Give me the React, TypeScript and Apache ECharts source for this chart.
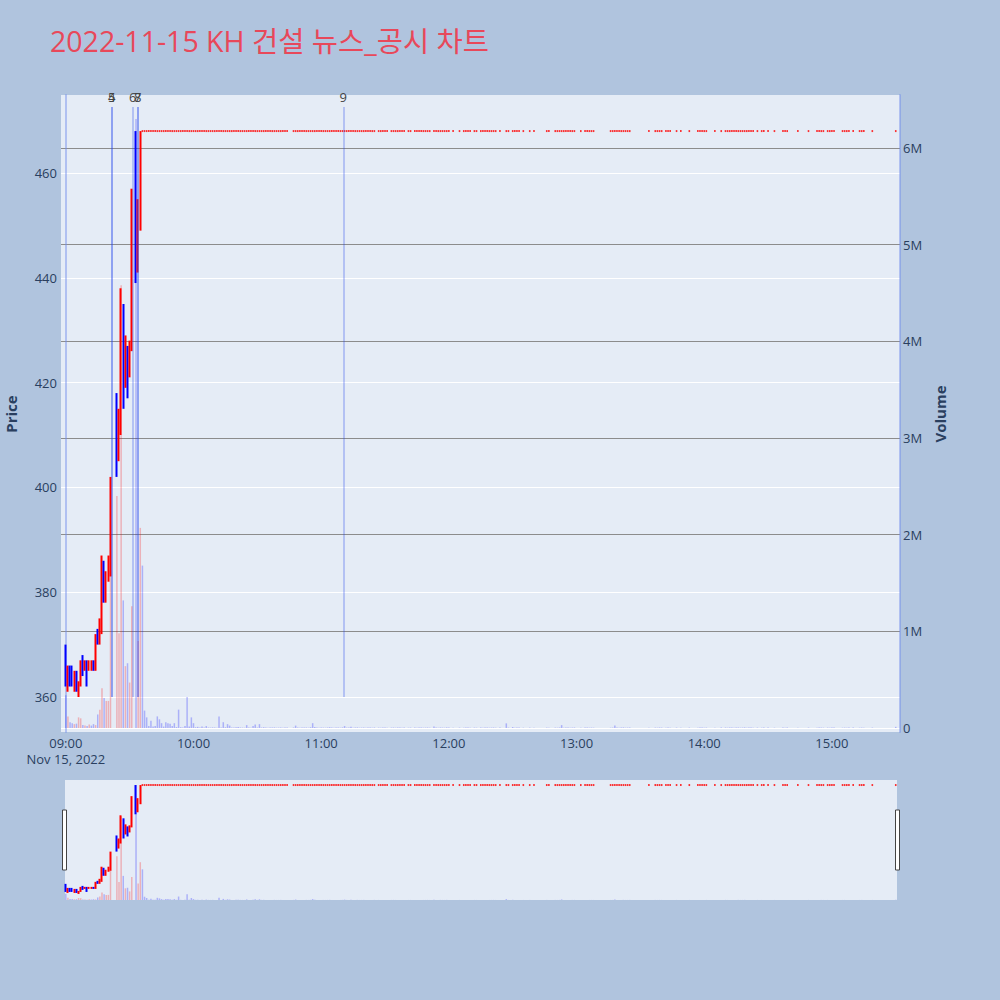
import React, { useEffect, useRef } from "react";
import * as echarts from "echarts";

// ---------------- data ----------------
const chartTitle = "2022-11-15 KH 건설 뉴스_공시 차트";
const tradeDateLabel = "Nov 15, 2022";
const previousClose = 365;
const upperLimitPrice = 468;

const activeTimes = [
  "09:00", "09:01", "09:02", "09:03", "09:04", "09:05", "09:06", "09:07", "09:08", "09:09",
  "09:10", "09:11", "09:12", "09:13", "09:14", "09:15", "09:16", "09:17", "09:18", "09:19",
  "09:20", "09:21", "09:24", "09:25", "09:26", "09:27", "09:28", "09:29", "09:30", "09:31",
  "09:33", "09:34", "09:35",
];
const activeOpen = [
  369, 362, 366, 364, 362, 364, 361, 363, 367, 365,
  367, 365, 365, 367, 365, 373, 371, 374, 386, 379,
  383, 384, 418, 406, 412, 435, 420, 427, 421, 426,
  468, 446, 449,
];
const activeClose = [
  363, 366, 363, 363, 364, 362, 363, 367, 365, 367,
  364, 366, 366, 365, 371, 371, 375, 386, 379, 383,
  386, 402, 405, 414, 437, 417, 428, 419, 427, 457,
  450, 453, 468,
];
const activeLow = [
  362, 361, 362, 362, 361, 361, 360, 362, 364, 365,
  362, 365, 365, 365, 365, 370, 370, 372, 378, 378,
  382, 383, 402, 405, 410, 415, 419, 417, 421, 426,
  439, 441, 449,
];
const activeHigh = [
  370, 366, 366, 366, 365, 365, 363, 367, 368, 367,
  367, 367, 367, 367, 372, 373, 375, 387, 386, 384,
  387, 402, 418, 415, 438, 435, 429, 427, 428, 457,
  468, 455, 468,
];
const activeVolumeK = [
  340, 120, 60, 50, 40, 45, 110, 100, 30, 25,
  20, 35, 25, 40, 30, 140, 190, 410, 310, 280,
  280, 1630, 2400, 980, 4580, 1320, 640, 670, 470, 1260,
  6300, 900, 2070,
];

// runs of consecutive minutes traded at the upper limit price
const limitRunStarts = [
  "09:36", "10:47", "11:27", "11:33", "11:41", "11:44", "11:53", "12:02", "12:05", "12:07",
  "12:12", "12:15", "12:24", "12:27", "12:30", "12:35", "12:38", "12:40", "12:46", "12:50",
  "13:02", "13:04", "13:16", "13:34", "13:37", "13:42", "13:47", "13:49", "13:53", "13:57",
  "14:05", "14:08", "14:10", "14:25", "14:27", "14:30", "14:33", "14:37", "14:44", "14:49",
  "14:53", "14:58", "15:05", "15:10", "15:13", "15:19", "15:30",
];
const limitRunVolumesK = [
  [
    1680, 180, 110, 20, 75, 15, 20, 120, 90, 50,
    15, 60, 50, 45, 20, 50, 10, 190, 8, 5,
    20, 320, 15, 110, 50, 8, 12, 5, 15, 5,
    20, 5, 4, 6, 5, 3, 120, 6, 60, 8,
    40, 25, 5, 4, 8, 10, 5, 4, 3, 30,
    4, 3, 20, 35, 5, 40, 5, 8, 4, 3,
    5, 4, 6, 3, 4, 5, 3, 4, 6,
  ],
  [
    5, 25, 4, 3, 6, 4, 5, 3, 8, 50,
    10, 4, 3, 5, 4, 3, 5, 8, 4, 3,
    5, 4, 3, 6, 20, 4, 5, 12, 3, 4,
    6, 3, 4, 5, 3, 4, 6, 3, 5,
  ],
  [4, 3, 5, 4, 3],
  [4, 5, 3, 6, 4, 3, 5],
  [3, 4],
  [5, 3, 4, 6, 3, 4, 5, 3],
  [15, 4, 3, 5, 4, 3, 6, 4],
  [3],
  [4],
  [3, 5, 4, 3],
  [4, 3],
  [5, 3, 4, 6, 3, 4, 5, 3],
  [4],
  [48, 4],
  [10, 3, 4, 5],
  [3],
  [4],
  [3],
  [4, 3],
  [4, 3, 5, 30, 3, 4, 6, 3, 4, 5],
  [3],
  [4, 5, 3, 4, 3],
  [3, 4, 26, 5, 3, 4, 6, 3, 4, 5],
  [3],
  [4, 3, 5, 4],
  [3, 4, 3],
  [4],
  [3],
  [4],
  [3, 5, 4, 3, 4],
  [3],
  [4],
  [5, 3, 4, 6, 3, 4, 5, 3, 4, 6, 3, 4, 5, 3],
  [4],
  [3, 4],
  [5],
  [3],
  [4, 3, 5],
  [3],
  [4],
  [3, 5, 4, 3],
  [4, 3, 5, 4],
  [3, 4, 3, 5],
  [4],
  [3, 4, 3],
  [4],
  [12],
];

const newsTimes = ["09:21:35", "09:21:35", "09:31:30", "09:33:50", "09:33:50", "11:10:25"];
const newsLabels = ["4", "5", "6", "7", "8", "9"];
const newsLineFrom = 360;
const newsLineTo = 472.6;

const hourTickLabels = ["09:00", "10:00", "11:00", "12:00", "13:00", "14:00", "15:00"];
const priceTickValues = [360, 380, 400, 420, 440, 460];
const volumeTickLabels = ["0", "1M", "2M", "3M", "4M", "5M", "6M"];

// ---------------- layout / style ----------------
const PAPER = "#b0c4de";
const PLOT_BG = "#e5ecf6";
const RED = "#ff0000";
const BLUE = "#0000ff";
const RED_VOL = "rgba(255,0,0,0.25)";
const BLUE_VOL = "rgba(0,0,255,0.25)";
const FONT = '"Open Sans", "Noto Sans CJK KR", sans-serif';
const TICK_COLOR = "#2a3f5f";

const PLOT_L = 61, PLOT_R = 900, PLOT_T = 95, PLOT_B = 732;
const X_MIN = -2.26, X_MAX = 392.0;
const PRICE_MIN = 353.32, PRICE_MAX = 474.885;
const VOL_MIN = -41400, VOL_MAX = 6548000;
const MINI_L = 65, MINI_R = 897, MINI_T = 780, MINI_B = 900;
const MINI_PRICE_MIN = 354, MINI_PRICE_MAX = 473;
const MINI_VOL_MAX = 6570000;

const pxPerMin = (PLOT_R - PLOT_L) / (X_MAX - X_MIN);
const xAt = (m: number) => PLOT_L + (m - X_MIN) * pxPerMin;
const yPrice = (p: number) => PLOT_T + ((PRICE_MAX - p) * (PLOT_B - PLOT_T)) / (PRICE_MAX - PRICE_MIN);
const yVol = (v: number) => PLOT_T + ((VOL_MAX - v) * (PLOT_B - PLOT_T)) / (VOL_MAX - VOL_MIN);
const MINI_X_MIN = X_MIN + (MINI_L - PLOT_L) / pxPerMin;
const MINI_X_MAX = X_MAX - (PLOT_R - MINI_R) / pxPerMin;

function toMinute(t: string): number {
  const [h, m, s] = t.split(":").map(Number);
  return (h - 9) * 60 + m + (s || 0) / 60;
}

// ---------------- derived series data ----------------
const activeX = activeTimes.map(toMinute);
const activeCandles = activeX.map((x, i) => [x, activeOpen[i], activeClose[i], activeLow[i], activeHigh[i]]);

const limitX: number[] = [];
const limitVol: number[] = [];
limitRunStarts.forEach((start, r) => {
  const x0 = toMinute(start);
  limitRunVolumesK[r].forEach((v, k) => {
    limitX.push(x0 + k);
    limitVol.push(v * 1000);
  });
});
// flat (open = high = low = close) trades at the upper limit
const limitTrades = limitX.map((x) => [x, upperLimitPrice]);

const allX = [...activeX, ...limitX];
const allClose = [...activeClose, ...limitX.map(() => upperLimitPrice)];
const allVol = [...activeVolumeK.map((v) => v * 1000), ...limitVol];
const volumeData = allX.map((x, i) => {
  const prev = i === 0 ? previousClose : allClose[i - 1];
  return { value: [x, allVol[i]], itemStyle: { color: allClose[i] > prev ? RED_VOL : BLUE_VOL } };
});

const newsX = newsTimes.map(toMinute);

const activeStyle = { color: RED, color0: BLUE, borderColor: RED, borderColor0: BLUE, borderWidth: 2 };

const hiddenAxis = (gridIndex: number, min: number, max: number) => ({
  type: "value", gridIndex, min, max, show: false,
  axisLine: { show: false }, axisTick: { show: false }, axisLabel: { show: false }, splitLine: { show: false },
});

function buildOption(): any {
  return {
    animation: false,
    backgroundColor: PAPER,
    textStyle: { fontFamily: FONT },
    grid: [
      // 0 main data grid
      { left: PLOT_L, right: 1000 - PLOT_R, top: PLOT_T, bottom: 1000 - PLOT_B, show: true, backgroundColor: PLOT_BG, borderWidth: 0 },
      // 1 price tick grid
      { left: PLOT_L, right: 1000 - PLOT_R, top: yPrice(priceTickValues[priceTickValues.length - 1]), bottom: 1000 - yPrice(priceTickValues[0]) },
      // 2 volume tick grid
      { left: PLOT_L, right: 1000 - PLOT_R, top: yVol(6000000), bottom: 1000 - yVol(0) },
      // 3 time tick grid
      { left: xAt(0), right: 1000 - xAt(360), top: PLOT_T, bottom: 1000 - PLOT_B },
      // 4 range slider preview
      { left: MINI_L, right: 1000 - MINI_R, top: MINI_T, bottom: 1000 - MINI_B, show: true, backgroundColor: PLOT_BG, borderWidth: 0 },
    ],
    xAxis: [
      hiddenAxis(0, X_MIN, X_MAX),
      hiddenAxis(1, 0, 1),
      hiddenAxis(2, 0, 1),
      {
        type: "value", gridIndex: 3, min: 0, max: 360, interval: 60,
        axisLine: { show: false }, axisTick: { show: false }, splitLine: { show: false },
        axisLabel: {
          show: true, margin: 3, color: TICK_COLOR, fontSize: 13, lineHeight: 16, fontFamily: FONT,
          formatter: (v: number) => {
            const idx = Math.round(v / 60);
            return idx === 0 ? hourTickLabels[0] + "\n" + tradeDateLabel : hourTickLabels[idx];
          },
        },
      },
      hiddenAxis(4, MINI_X_MIN, MINI_X_MAX),
    ],
    yAxis: [
      {
        type: "value", gridIndex: 0, min: PRICE_MIN, max: PRICE_MAX, position: "left",
        axisLine: { show: true, lineStyle: { color: "rgba(110,140,235,0.45)", width: 2 } },
        axisTick: { show: false }, axisLabel: { show: false }, splitLine: { show: false },
      },
      {
        type: "value", gridIndex: 0, min: VOL_MIN, max: VOL_MAX, position: "right",
        axisLine: { show: true, lineStyle: { color: "rgba(110,140,235,0.45)", width: 2 } },
        axisTick: { show: false }, axisLabel: { show: false }, splitLine: { show: false },
      },
      {
        type: "value", gridIndex: 1, min: priceTickValues[0], max: priceTickValues[priceTickValues.length - 1], interval: 20,
        position: "left",
        axisLine: { show: false }, axisTick: { show: false },
        axisLabel: { show: true, margin: 4, color: TICK_COLOR, fontSize: 13, fontFamily: FONT },
        splitLine: { show: true, lineStyle: { color: "#ffffff", width: 1 } },
      },
      {
        type: "value", gridIndex: 2, min: 0, max: 6000000, interval: 1000000, position: "right",
        axisLine: { show: false }, axisTick: { show: false },
        axisLabel: {
          show: true, margin: 3, color: TICK_COLOR, fontSize: 13, fontFamily: FONT,
          formatter: (v: number) => volumeTickLabels[Math.round(v / 1000000)],
        },
        splitLine: {
          show: true,
          lineStyle: { color: ["#ffffff", "#8c8c8c", "#8c8c8c", "#8c8c8c", "#8c8c8c", "#8c8c8c", "#8c8c8c"], width: 1 },
        },
      },
      hiddenAxis(3, 0, 1),
      hiddenAxis(4, MINI_PRICE_MIN, MINI_PRICE_MAX),
      hiddenAxis(4, 0, MINI_VOL_MAX),
    ],
    series: [
      {
        type: "bar", xAxisIndex: 0, yAxisIndex: 1, data: volumeData, barWidth: 1.5, z: 1, silent: true,
      },
      {
        type: "candlestick", xAxisIndex: 0, yAxisIndex: 0, data: activeCandles, barWidth: 1.2, z: 3, silent: true,
        itemStyle: activeStyle,
        markLine: {
          silent: true,
          symbol: ["none", "none"],
          lineStyle: { color: "rgba(40,70,235,0.35)", width: 1.5, type: "solid" },
          label: {
            show: true, position: "end", distance: 3, color: "#444", fontSize: 13, fontFamily: FONT,
            formatter: (p: any) => newsLabels[p.dataIndex],
          },
          data: newsX.map((x) => [{ coord: [x, newsLineFrom] }, { coord: [x, newsLineTo] }]),
        },
      },
      {
        type: "scatter", xAxisIndex: 0, yAxisIndex: 0, data: limitTrades, z: 3, silent: true,
        symbol: "rect", symbolSize: [1.6, 2], itemStyle: { color: RED },
      },
      {
        type: "bar", xAxisIndex: 4, yAxisIndex: 6, data: volumeData, barWidth: 1.5, z: 1, silent: true,
      },
      {
        type: "candlestick", xAxisIndex: 4, yAxisIndex: 5, data: activeCandles, barWidth: 1.2, z: 3, silent: true,
        itemStyle: activeStyle,
      },
      {
        type: "scatter", xAxisIndex: 4, yAxisIndex: 5, data: limitTrades, z: 3, silent: true,
        symbol: "rect", symbolSize: [1.6, 2], itemStyle: { color: RED },
      },
    ],
    graphic: [
      {
        type: "text", x: 50, y: 41, z: 100,
        style: {
          text: chartTitle, fill: "#e8485a", fontSize: 28.5, fontFamily: FONT,
          align: "left", verticalAlign: "middle", textAlign: "left", textVerticalAlign: "middle",
        },
      },
      {
        type: "text", x: 11, y: 414, rotation: Math.PI / 2, z: 100,
        style: {
          text: "Price", fill: TICK_COLOR, fontSize: 15, fontWeight: "bold", fontFamily: FONT,
          align: "center", verticalAlign: "middle", textAlign: "center", textVerticalAlign: "middle",
        },
      },
      {
        type: "text", x: 940, y: 414, rotation: Math.PI / 2, z: 100,
        style: {
          text: "Volume", fill: TICK_COLOR, fontSize: 15, fontWeight: "bold", fontFamily: FONT,
          align: "center", verticalAlign: "middle", textAlign: "center", textVerticalAlign: "middle",
        },
      },
      {
        type: "rect", z: 100,
        shape: { x: 62.5, y: 810, width: 4, height: 60 },
        style: { fill: "#ffffff", stroke: "#444444", lineWidth: 1 },
      },
      {
        type: "rect", z: 100,
        shape: { x: 895.5, y: 810, width: 4, height: 60 },
        style: { fill: "#ffffff", stroke: "#444444", lineWidth: 1 },
      },
    ],
  };
}

export default function App() {
  const ref = useRef<HTMLDivElement>(null);
  useEffect(() => {
    document.body.style.margin = "0";
    const chart = echarts.init(ref.current as HTMLDivElement, undefined, { renderer: "svg" });
    chart.setOption(buildOption());
    return () => chart.dispose();
  }, []);
  return <div ref={ref} style={{ width: 1000, height: 1000, background: PAPER }} />;
}
